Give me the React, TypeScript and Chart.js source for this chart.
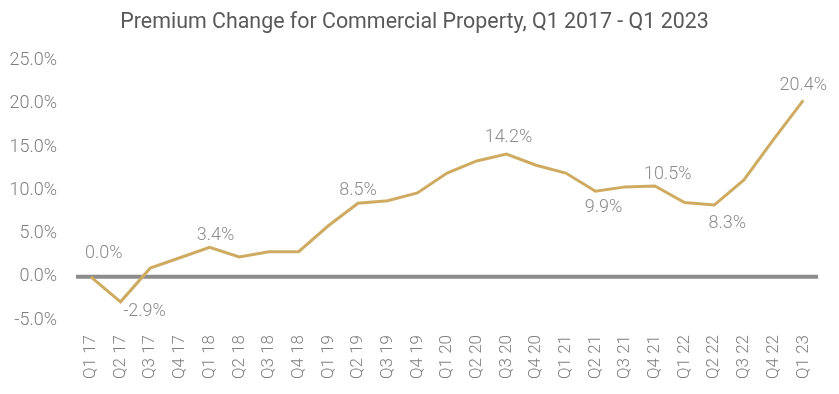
import React, { useEffect, useRef } from "react";
import { Chart, registerables } from "chart.js";

Chart.register(...registerables);

const categories = [
  "Q1 17", "Q2 17", "Q3 17", "Q4 17",
  "Q1 18", "Q2 18", "Q3 18", "Q4 18",
  "Q1 19", "Q2 19", "Q3 19", "Q4 19",
  "Q1 20", "Q2 20", "Q3 20", "Q4 20",
  "Q1 21", "Q2 21", "Q3 21", "Q4 21",
  "Q1 22", "Q2 22", "Q3 22", "Q4 22",
  "Q1 23",
];

const premiumChange = [
  0.0, -2.9, 1.0, 2.2,
  3.4, 2.3, 2.9, 2.9,
  5.9, 8.5, 8.8, 9.7,
  12.0, 13.4, 14.2, 12.9,
  12.0, 9.9, 10.4, 10.5,
  8.6, 8.3, 11.2, 15.9,
  20.4,
];

// indices of points that carry a data label
const labelledPoints = [0, 1, 4, 9, 14, 17, 19, 21, 24];

const yTicks = [-5, 0, 5, 10, 15, 20, 25];

const TITLE = "Premium Change for Commercial Property, Q1 2017 - Q1 2023";
const FONT = "Roboto";
const GOLD = "#CFAB62";
const TEXT_GRAY = "#7f7f7f";

// label offsets (dx, dy) relative to point, style config
const labelOffsets: Record<number, [number, number]> = {
  0: [13, -23],
  1: [24, 10],
  4: [6, -12],
  9: [0, -13],
  14: [2, -17],
  17: [8, 16],
  19: [13, -12],
  21: [13, 18],
  24: [0, -15],
};

const zeroLinePlugin = {
  id: "zeroLine",
  beforeDatasetsDraw(chart: any) {
    const { ctx, chartArea, scales } = chart;
    const y = scales.y.getPixelForValue(0);
    ctx.save();
    ctx.strokeStyle = "#8c8c8c";
    ctx.lineWidth = 4;
    ctx.beginPath();
    ctx.moveTo(chartArea.left, y);
    ctx.lineTo(chartArea.right, y);
    ctx.stroke();
    ctx.restore();
  },
};

const dataLabelPlugin = {
  id: "pointLabels",
  afterDatasetsDraw(chart: any) {
    const { ctx } = chart;
    const meta = chart.getDatasetMeta(0);
    ctx.save();
    ctx.font = `300 18px ${FONT}`;
    ctx.fillStyle = "#8c8c8c";
    ctx.textAlign = "center";
    ctx.textBaseline = "middle";
    labelledPoints.forEach((i) => {
      const pt = meta.data[i];
      const [dx, dy] = labelOffsets[i] || [0, -14];
      ctx.fillText(premiumChange[i].toFixed(1) + "%", pt.x + dx, pt.y + dy);
    });
    ctx.restore();
  },
};

export default function App() {
  const ref = useRef<HTMLCanvasElement>(null);
  useEffect(() => {
    document.body.style.margin = "0";
    const chart = new Chart(ref.current!, {
      type: "line",
      data: {
        labels: categories,
        datasets: [
          {
            data: premiumChange,
            borderColor: GOLD,
            borderWidth: 3,
            pointRadius: 0,
            tension: 0,
            fill: false,
          },
        ],
      },
      options: {
        responsive: false,
        animation: false,
        layout: { padding: { left: 6, right: 16, top: 0, bottom: 0 } },
        plugins: {
          legend: { display: false },
          tooltip: { enabled: false },
          title: {
            display: true,
            text: TITLE,
            color: "#595959",
            font: { family: FONT, size: 21.4, weight: "normal" },
            padding: { top: 10, bottom: 25 },
          },
        },
        scales: {
          x: {
            offset: true,
            grid: { display: false, drawTicks: false },
            border: { display: false },
            afterFit(axis: any) {
              axis.height = 74;
            },
            ticks: {
              color: TEXT_GRAY,
              font: { family: FONT, size: 17, weight: "300" },
              minRotation: 90,
              maxRotation: 90,
              autoSkip: false,
              padding: 15,
            },
          },
          y: {
            min: yTicks[0],
            max: yTicks[yTicks.length - 1],
            grid: { display: false, drawTicks: false },
            border: { display: false },
            afterBuildTicks(axis: any) {
              axis.ticks = yTicks.map((v) => ({ value: v }));
            },
            afterFit(axis: any) {
              axis.width = 70;
            },
            ticks: {
              color: TEXT_GRAY,
              font: { family: FONT, size: 18, weight: "300" },
              padding: 19,
              callback: (v: any) => Number(v).toFixed(1) + "%",
            },
          },
        },
      },
      plugins: [zeroLinePlugin, dataLabelPlugin],
    });
    return () => chart.destroy();
  }, []);
  return (
    <div style={{ width: 839, height: 394, background: "#fff" }}>
      <canvas ref={ref} width={839} height={394} />
    </div>
  );
}
